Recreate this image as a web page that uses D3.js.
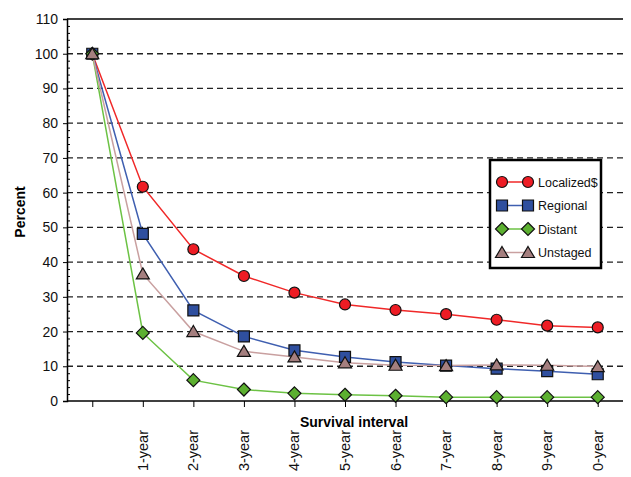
<!DOCTYPE html>
<html><head><meta charset="utf-8">
<script src="https://cdn.jsdelivr.net/npm/d3@7"></script>
<style>body{margin:0;background:#fff}svg{display:block;font-family:"Liberation Sans",Arial,sans-serif}</style>
</head><body><svg id="c" width="631" height="477"></svg>
<script>
const xLabels = ["", "1-year", "2-year", "3-year", "4-year", "5-year", "6-year", "7-year", "8-year", "9-year", "0-year"];
const localized = [100, 61.7, 43.7, 36.0, 31.2, 27.8, 26.2, 25.0, 23.4, 21.7, 21.2];
const regional  = [100, 48.1, 26.1, 18.6, 14.6, 12.7, 11.2, 10.2, 9.3, 8.6, 7.7];
const distant   = [100, 19.6, 6.0, 3.3, 2.2, 1.8, 1.5, 1.1, 1.1, 1.1, 1.1];
const unstaged  = [100, 36.6, 20.0, 14.3, 12.7, 11.0, 10.3, 10.2, 10.4, 10.3, 9.9];
const seriesNames = ["Localized$", "Regional", "Distant", "Unstaged"];
const yTicks = [0,10,20,30,40,50,60,70,80,90,100,110];

const svg = d3.select("#c");
const L = 67, R = 623, T = 19, B = 401;
const x = d3.scalePoint().domain(d3.range(xLabels.length)).range([L, R]).padding(0.5);
const y = d3.scaleLinear().domain([0, 110]).range([B, T]);

const series = [
  {name: seriesNames[0], data: localized, line: "#f02828", fill: "#ee1c24", shape: "circle"},
  {name: seriesNames[1], data: regional,  line: "#3f5fb0", fill: "#2f4f9f", shape: "square"},
  {name: seriesNames[2], data: distant,   line: "#6cc244", fill: "#5cb030", shape: "diamond"},
  {name: seriesNames[3], data: unstaged,  line: "#c9a0a0", fill: "#a57f7f", shape: "triangle"}
];

// gridlines
svg.append("g").selectAll("line").data(yTicks.filter(d => d > 0 && d < 110)).join("line")
  .attr("x1", L).attr("x2", R).attr("y1", d => y(d)).attr("y2", d => y(d))
  .attr("stroke", "#222").attr("stroke-width", 1.3).attr("stroke-dasharray", "6,4");
// top line
svg.append("line").attr("x1", L).attr("x2", R).attr("y1", y(110)).attr("y2", y(110))
  .attr("stroke", "#000").attr("stroke-width", 1.3);

// y axis
const yAxis = svg.append("g").attr("transform", `translate(${L},0)`)
  .call(d3.axisLeft(y).tickValues(yTicks).tickSize(4).tickPadding(5));
yAxis.select(".domain").attr("stroke-width", 1.5);
yAxis.selectAll("text").attr("font-size", 14).attr("fill", "#111");
svg.append("g").attr("transform", `translate(${L},0)`)
  .call(d3.axisRight(y).tickValues(d3.range(0, 111, 2).filter(d => d % 10 !== 0)).tickSize(3).tickFormat(""))
  .select(".domain").remove();

// x axis
const xAxis = svg.append("g").attr("transform", `translate(0,${B})`)
  .call(d3.axisBottom(x).tickSize(6).tickFormat(""));
xAxis.select(".domain").attr("d", `M${L},0H${R}`).attr("stroke-width", 1.5);
svg.append("g").selectAll("text").data(xLabels.map((t, i) => ({t, i})).filter(d => d.t)).join("text")
  .attr("transform", d => `translate(${x(d.i) + 5},430) rotate(-90)`)
  .attr("text-anchor", "end").attr("font-size", 14.5).attr("fill", "#111").text(d => d.t);

// axis titles
svg.append("text").attr("x", 354).attr("y", 427).attr("text-anchor", "middle")
  .attr("font-size", 14).attr("font-weight", "bold").text("Survival interval");
svg.append("text").attr("transform", "translate(25,212) rotate(-90)").attr("text-anchor", "middle")
  .attr("font-size", 14).attr("font-weight", "bold").text("Percent");

const shapePath = {
  circle: d3.symbol().type(d3.symbolCircle).size(95)(),
  square: "M-5.5,-5.5H5.5V5.5H-5.5Z",
  diamond: "M0,-6.5L6.5,0L0,6.5L-6.5,0Z",
  triangle: "M0,-6L6.5,5L-6.5,5Z"
};
function marker(g, s, cx, cy) {
  g.append("path").attr("d", shapePath[s.shape])
    .attr("transform", `translate(${cx},${cy})`)
    .attr("fill", s.fill).attr("stroke", "#111").attr("stroke-width", 1.2);
}

const line = d3.line().x((d, i) => x(i)).y(d => y(d));
series.forEach(s => {
  svg.append("path").attr("d", line(s.data)).attr("fill", "none")
    .attr("stroke", s.line).attr("stroke-width", 1.5);
});
series.forEach(s => {
  const g = svg.append("g");
  s.data.forEach((v, i) => marker(g, s, x(i), y(v)));
});

// legend
const lg = svg.append("g");
lg.append("rect").attr("x", 490).attr("y", 160).attr("width", 111).attr("height", 108)
  .attr("fill", "#fff").attr("stroke", "#000").attr("stroke-width", 2.5);
series.forEach((s, i) => {
  const cy = 182 + i * 23.5;
  lg.append("line").attr("x1", 502).attr("x2", 528).attr("y1", cy).attr("y2", cy)
    .attr("stroke", s.line).attr("stroke-width", 1.5);
  marker(lg, s, 502, cy);
  marker(lg, s, 528, cy);
  lg.append("text").attr("x", 538).attr("y", cy + 4.5).attr("font-size", 12.5).attr("fill", "#111").text(s.name);
});
</script></body></html>
